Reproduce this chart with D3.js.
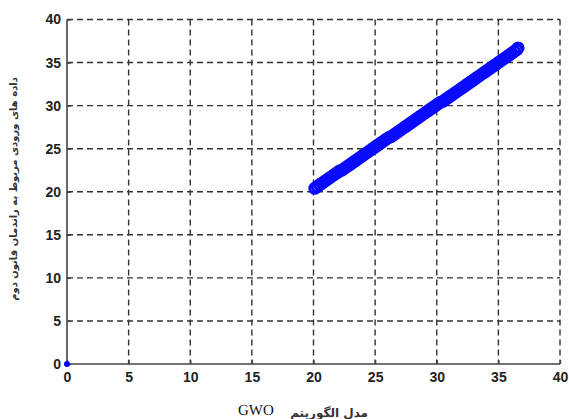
<!DOCTYPE html>
<html><head><meta charset="utf-8">
<script src="https://cdn.jsdelivr.net/npm/d3@7"></script>
<style>body{margin:0;background:#fff;}svg{display:block;}</style>
</head><body>
<svg id="c" width="569" height="419"></svg>
<script>
const xTicks = [0,5,10,15,20,25,30,35,40];
const yTicks = [0,5,10,15,20,25,30,35,40];
const xValues = [20.1,20.3,20.5,20.7,20.9,21.1,21.3,21.5,21.7,21.9,22.1,22.3,22.5,22.7,22.9,23.1,23.3,23.5,23.7,23.9,24.1,24.3,24.5,24.7,24.9,25.1,25.3,25.5,25.7,25.9,26.1,26.3,26.5,26.7,26.9,27.1,27.3,27.5,27.7,27.9,28.1,28.3,28.5,28.7,28.9,29.1,29.3,29.5,29.7,29.9,30.1,30.3,30.5,30.7,30.9,31.1,31.3,31.5,31.7,31.9,32.1,32.3,32.5,32.7,32.9,33.1,33.3,33.5,33.7,33.9,34.1,34.3,34.5,34.7,34.9,35.1,35.3,35.5,35.7,35.9,36.1,36.3,36.5,36.6];
const yValues = [20.4,20.6,20.8,21.0,21.2,21.4,21.6,21.8,22.0,22.2,22.4,22.5,22.7,22.9,23.1,23.3,23.5,23.7,23.9,24.1,24.3,24.5,24.7,24.9,25.1,25.3,25.5,25.7,25.9,26.1,26.3,26.4,26.6,26.8,27.0,27.2,27.4,27.6,27.8,28.0,28.2,28.4,28.6,28.8,29.0,29.2,29.4,29.6,29.8,30.0,30.2,30.4,30.5,30.7,30.9,31.1,31.3,31.5,31.7,31.9,32.1,32.3,32.5,32.7,32.9,33.1,33.3,33.5,33.7,33.9,34.1,34.3,34.5,34.7,34.9,35.1,35.3,35.5,35.7,35.9,36.1,36.3,36.5,36.7];
const originPoint = [[0,0]];
const yLabel = "داده های ورودی مربوط به راندمان قانون دوم";
const xLabelLatin = "GWO";
const xLabelFa = "مدل الگوریتم";

const svg = d3.select("#c");
const L=67, R=560, T=19.5, B=364;
const x = d3.scaleLinear().domain([0,40]).range([L,R]);
const y = d3.scaleLinear().domain([0,40]).range([B,T]);

// grid
const g = svg.append("g");
g.selectAll("line.gx").data(xTicks.filter(d=>d>0)).join("line")
  .attr("x1",d=>x(d)).attr("x2",d=>x(d)).attr("y1",T).attr("y2",B)
  .attr("stroke","#333").attr("stroke-width",1.4).attr("stroke-dasharray","6,4");
g.selectAll("line.gy").data(yTicks.filter(d=>d>0)).join("line")
  .attr("y1",d=>y(d)).attr("y2",d=>y(d)).attr("x1",L).attr("x2",R)
  .attr("stroke","#333").attr("stroke-width",1.4).attr("stroke-dasharray","6,4");

// axes
const xAxis = d3.axisBottom(x).tickValues(xTicks).tickSize(-4).tickPadding(8);
const yAxis = d3.axisLeft(y).tickValues(yTicks).tickSize(-4).tickPadding(6);
const ax = svg.append("g").attr("transform",`translate(0,${B})`).call(xAxis);
const ay = svg.append("g").attr("transform",`translate(${L},0)`).call(yAxis);
[ax,ay].forEach(a=>{
  a.select(".domain").attr("stroke","#444").attr("stroke-width",1.6);
  a.selectAll(".tick line").attr("stroke","#444").attr("stroke-width",1.4);
  a.selectAll(".tick text").attr("fill","#222").attr("font-family","Liberation Sans, Arial, sans-serif")
    .attr("font-size",14).attr("font-weight","bold");
});
ax.select(".domain").attr("d",`M${L},0H${R}`);
ay.select(".domain").attr("d",`M0,${T}V${B}`);

// data markers
const pts = xValues.map((v,i)=>[v,yValues[i]]);
svg.append("g").selectAll("circle").data(pts).join("circle")
  .attr("cx",d=>x(d[0])).attr("cy",d=>y(d[1])).attr("r",5)
  .attr("fill","none").attr("stroke","#0a0aff").attr("stroke-width",3);
svg.append("g").selectAll("circle").data(originPoint).join("circle")
  .attr("cx",d=>x(d[0])).attr("cy",d=>y(d[1])).attr("r",3)
  .attr("fill","#0000ff");

// labels
svg.append("text").attr("transform","translate(17,189) rotate(-90)")
  .attr("text-anchor","middle").attr("font-family","DejaVu Sans, sans-serif")
  .attr("font-size",10).attr("font-weight","bold").attr("fill","#333")
  .text(yLabel);
svg.append("text").attr("x",238).attr("y",415)
  .attr("font-family","Liberation Serif, Times New Roman, serif").attr("font-size",15).attr("fill","#111")
  .text(xLabelLatin);
svg.append("text").attr("x",368).attr("y",417).attr("text-anchor","end")
  .attr("font-family","DejaVu Sans, sans-serif").attr("font-size",12).attr("font-weight","bold").attr("fill","#333")
  .text(xLabelFa);
</script>
</body></html>
